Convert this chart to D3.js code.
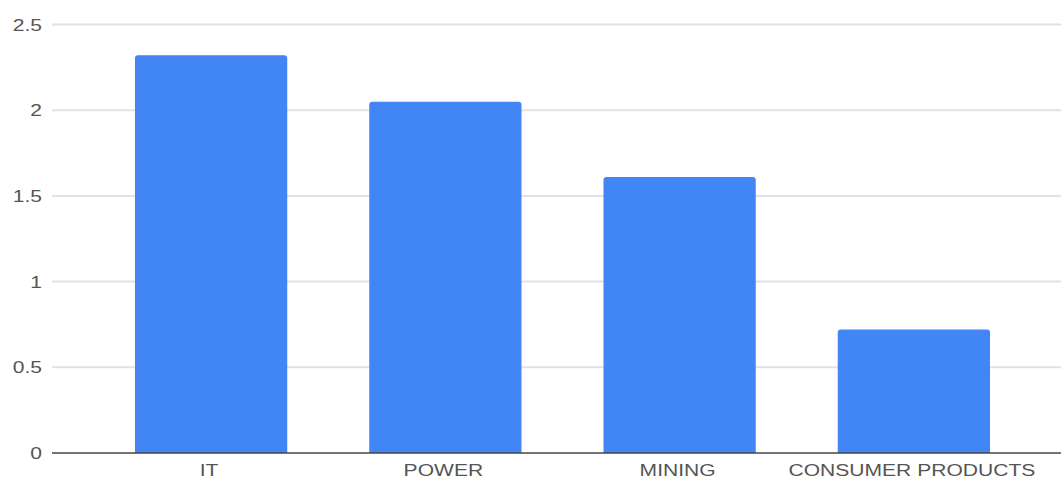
<!DOCTYPE html>
<html>
<head>
<meta charset="utf-8">
<script src="https://cdn.jsdelivr.net/npm/d3@7"></script>
<style>
  body { margin: 0; background: #fff; }
  .chart-container text { font-family: "Liberation Sans", Arial, sans-serif; }
</style>
</head>
<body>
<div class="chart-container"></div>
<script>
const categories = ['IT', 'POWER', 'MINING', 'CONSUMER PRODUCTS'];
const values = [2.32, 2.05, 1.61, 0.72];
const yTicks = [0, 0.5, 1, 1.5, 2, 2.5];

const W = 1061, H = 480;
const plot = { left: 52, right: 1061, top: 24.5, bottom: 453 };
const stretch = 1.24; // labels in the reference look wider than normal

const svg = d3.select('.chart-container')
    .append('svg')
    .attr('width', W)
    .attr('height', H);

const x = d3.scaleBand()
    .domain(categories)
    .range([94, 1031])
    .paddingInner(0.35)
    .paddingOuter(0.175);

const y = d3.scaleLinear()
    .domain([0, 2.5])
    .range([plot.bottom, plot.top]);

// gridlines
svg.append('g')
    .selectAll('line')
    .data(yTicks.filter(d => d > 0))
    .enter().append('line')
    .attr('x1', plot.left)
    .attr('x2', plot.right)
    .attr('y1', d => y(d))
    .attr('y2', d => y(d))
    .attr('stroke', '#e2e2e2')
    .attr('stroke-width', 2);

// y labels
svg.append('g')
    .selectAll('text')
    .data(yTicks)
    .enter().append('text')
    .attr('transform', d => `translate(42,${y(d) + 6}) scale(${stretch},1)`)
    .attr('text-anchor', 'end')
    .attr('font-size', '17px')
    .attr('fill', '#555')
    .text(d => d);

// bars
svg.append('g')
    .selectAll('path')
    .data(values)
    .enter().append('path')
    .attr('fill', '#4285f4')
    .attr('d', (d, i) => {
        const x0 = x(categories[i]), w = x.bandwidth();
        const top = y(d), bot = y(0), r = 3;
        return `M${x0},${bot}V${top + r}Q${x0},${top} ${x0 + r},${top}H${x0 + w - r}Q${x0 + w},${top} ${x0 + w},${top + r}V${bot}Z`;
    });

// baseline
svg.append('line')
    .attr('x1', plot.left)
    .attr('x2', plot.right)
    .attr('y1', y(0))
    .attr('y2', y(0))
    .attr('stroke', '#444')
    .attr('stroke-width', 1.5);

// x labels
svg.append('g')
    .selectAll('text')
    .data(categories)
    .enter().append('text')
    .attr('transform', d => `translate(${x(d) + x.bandwidth() / 2 - 2},476) scale(${stretch},1)`)
    .attr('text-anchor', 'middle')
    .attr('font-size', '17px')
    .attr('fill', '#555')
    .text(d => d);
</script>
</body>
</html>
